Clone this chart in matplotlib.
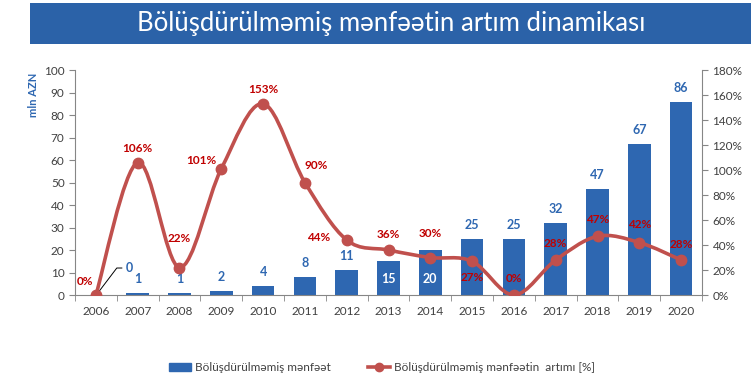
import numpy as np
import matplotlib.pyplot as plt
from matplotlib.path import Path
from matplotlib.patches import PathPatch, Rectangle
from matplotlib.lines import Line2D
from matplotlib.ticker import PercentFormatter, FixedLocator

plt.rcParams['font.family'] = ['Lato', 'DejaVu Sans']

years = ['2006', '2007', '2008', '2009', '2010', '2011', '2012', '2013',
         '2014', '2015', '2016', '2017', '2018', '2019', '2020']
profit = [0, 1, 1, 2, 4, 8, 11, 15, 20, 25, 25, 32, 47, 67, 86]
growth = [0, 106, 22, 101, 153, 90, 44, 36, 30, 27, 0, 28, 47, 42, 28]

# label offsets (points) for the growth labels
growth_off = [(-8, 10), (0, 10), (0, 21), (-14, 6), (0, 10), (8, 12), (-20, 2),
              (0, 11), (0, 17), (0, -12), (0, 12), (0, 12), (0, 12), (0, 13), (0, 11)]

bar_col = '#2E67B1'
line_col = '#C0504D'
lab_red = '#C00000'
txt_col = '#404040'
grid_col = '#868686'

fig = plt.figure(figsize=(7.56, 3.79), dpi=100)

# title banner
fig.patches.append(Rectangle((0.040, 0.884), 0.954, 0.108, transform=fig.transFigure,
                             facecolor='#2B62A8', edgecolor='none'))
fig.text(0.517, 0.938, 'Bölüşdürülməmiş mənfəətin artım dinamikası', color='white',
         fontsize=18.5, ha='center', va='center')

ax = fig.add_axes([0.0992, 0.2216, 0.8294, 0.5937])
x = np.arange(len(years))
ax.bar(x, profit, width=0.54, color=bar_col, zorder=2)
ax.set_xlim(-0.5, len(years) - 0.5)
ax.set_ylim(0, 100)
ax.set_yticks(range(0, 101, 10))
ax.set_xticks(x)
ax.set_xticklabels(years)
ax.xaxis.set_minor_locator(FixedLocator(np.arange(-0.5, len(years), 1)))
ax.tick_params(axis='x', which='major', length=0, pad=8, labelsize=8.5, colors=txt_col)
ax.tick_params(axis='x', which='minor', length=4, color=grid_col, direction='out')
ax.tick_params(axis='y', length=4, color=grid_col, labelsize=8.5, colors=txt_col)
for s in ['top', 'right']:
    ax.spines[s].set_visible(False)
for s in ['left', 'bottom']:
    ax.spines[s].set_color(grid_col)
ax.set_ylabel('mln AZN', color='#2E67B1', fontsize=8, fontweight='bold')
ax.yaxis.set_label_coords(-0.058, 0.89)

for i, v in enumerate(profit):
    if i == 0:
        # leader line for the zero label
        ax.plot([i + 0.03, i + 0.5, i + 0.62], [0.5, 12, 12], color='black', lw=0.7,
                zorder=3, clip_on=False)
        ax.text(i + 0.8, 12, '0', color=bar_col, fontsize=9, fontweight='bold',
                ha='center', va='center')
    elif v in (15, 20):
        ax.text(i, 7, str(v), color='white', fontsize=9, fontweight='bold',
                ha='center', va='center', zorder=3)
    else:
        ax.annotate(str(v), xy=(i, v), xytext=(0, 10), textcoords='offset points',
                    color=bar_col, fontsize=9, fontweight='bold', ha='center', va='center')

ax2 = ax.twinx()
ax2.set_ylim(0, 180)
ax2.set_yticks(range(0, 181, 20))
ax2.yaxis.set_major_formatter(PercentFormatter(decimals=0))
ax2.tick_params(axis='y', length=4, color=grid_col, labelsize=8.5, colors=txt_col)
for s in ['top', 'left', 'bottom']:
    ax2.spines[s].set_visible(False)
ax2.spines['right'].set_color(grid_col)

# smoothed line (Catmull-Rom as cubic Bezier)
pts = np.column_stack([x, growth]).astype(float)
verts = [pts[0]]
codes = [Path.MOVETO]
n = len(pts)
for i in range(n - 1):
    p0 = pts[i - 1] if i > 0 else pts[i]
    p1, p2 = pts[i], pts[i + 1]
    p3 = pts[i + 2] if i + 2 < n else pts[i + 1]
    c1 = p1 + (p2 - p0) / 6
    c2 = p2 - (p3 - p1) / 6
    verts += [c1, c2, p2]
    codes += [Path.CURVE4] * 3
ax2.add_patch(PathPatch(Path(verts, codes), facecolor='none', edgecolor=line_col,
                        lw=2.6, zorder=3))
ax2.plot(x, growth, 'o', color=line_col, ms=7.5, zorder=4)

for i, v in enumerate(growth):
    ax2.annotate(f'{v}%', xy=(i, v), xytext=growth_off[i], textcoords='offset points',
                 color=lab_red, fontsize=8.5, fontweight='bold', ha='center', va='center',
                 zorder=5)

handles = [Rectangle((0, 0), 1, 1, color=bar_col),
           Line2D([0], [0], color=line_col, lw=2.6, marker='o', ms=6)]
fig.legend(handles, ['Bölüşdürülməmiş mənfəət', 'Bölüşdürülməmiş mənfəətin  artımı [%]'],
           loc='center', bbox_to_anchor=(0.505, 0.03), ncol=2, frameon=False,
           fontsize=8.5, labelcolor=txt_col, handlelength=1.9, handleheight=0.55,
           handletextpad=0.3, columnspacing=3.2)

fig.savefig('out.png', dpi=100)
